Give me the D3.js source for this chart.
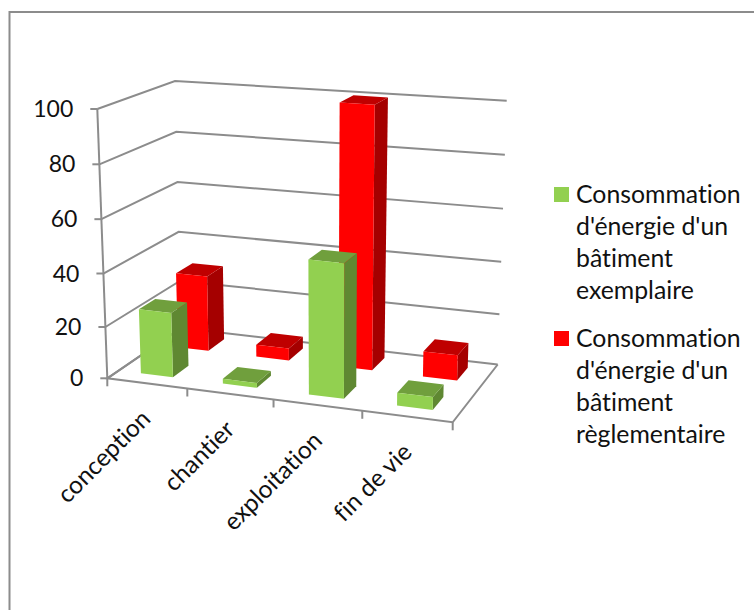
<!DOCTYPE html>
<html lang="fr">

<head>
    <meta charset="utf-8">
    <script src="https://d3js.org/d3.v7.min.js"></script>
    <style>
        body { margin: 0; background: white; }
        text { font-family: Lato, "Open Sans", sans-serif; fill: #111; font-variant-ligatures: none; }
        .axis-line { fill: none; stroke: #8c8c8c; stroke-width: 2px; }
    </style>
</head>

<body>
    <div id="my_dataviz"></div>

    <script>
        // chart data
        const categories = ["conception", "chantier", "exploitation", "fin de vie"];
        const seriesKeys = ["exemplaire", "reglementaire"];
        const exemplaire = [25, 2, 50, 5];
        const reglementaire = [30, 5, 100, 10];
        const valueTicks = [0, 20, 40, 60, 80, 100];
        const legendExemplaire = ["Consommation", "d'énergie d'un", "bâtiment", "exemplaire"];
        const legendReglementaire = ["Consommation", "d'énergie d'un", "bâtiment", "règlementaire"];

        const width = 754, height = 610;

        const svg = d3.select("#my_dataviz")
            .append("svg")
            .attr("width", width)
            .attr("height", height)
            .style("display", "block");

        // chart frame, runs off the picture on the right and the bottom
        svg.append("path")
            .attr("class", "axis-line")
            .attr("d", `M9.5,${height + 5}V12H${width + 5}`);

        // the corners of the 3d box on screen, everything gets projected from these
        const box = {
            floorFrontLeft: [107.3, 378.3], floorFrontRight: [452.7, 422.3],
            floorBackLeft: [181, 328], floorBackRight: [497.7, 364.5],
            topFrontLeft: [97.3, 109], topFrontRight: [457.7, 136],
            topBackLeft: [175, 81], topBackRight: [506.7, 100.7]
        };

        // scales work in 0-1 box space, the pow ones fake the perspective
        const x = d3.scaleBand().domain(categories).range([0, 1]).paddingInner(0.6).paddingOuter(0.3);
        const z = d3.scaleBand().domain(seriesKeys).range([0, 1]).paddingInner(0.563).paddingOuter(0.2525).align(0.596);
        const y = d3.scalePow().exponent(1.03).domain([0, 100]).range([0, 1]);
        const perspective = d3.scalePow().exponent(1.055).domain([0, 1]).range([0, 1]);

        const lerp = (a, b, t) => [a[0] + (b[0] - a[0]) * t, a[1] + (b[1] - a[1]) * t];

        function project(u, v, w) {
            const p = perspective(u);
            const floor = lerp(lerp(box.floorFrontLeft, box.floorFrontRight, p), lerp(box.floorBackLeft, box.floorBackRight, p), v);
            const top = lerp(lerp(box.topFrontLeft, box.topFrontRight, p), lerp(box.topBackLeft, box.topBackRight, p), v);
            return lerp(floor, top, w);
        }

        const line = d3.line();

        // gridlines on left and back wall
        const grid = svg.append("g");
        valueTicks.forEach(t => {
            const w = y(t);
            grid.append("path")
                .attr("class", "axis-line")
                .attr("d", line([project(0, 0, w), project(0, 1, w), project(1, 1, w)]));
            // tick to the left of the value axis
            const p = project(0, 0, w);
            grid.append("path")
                .attr("class", "axis-line")
                .attr("d", line([[p[0] - 7, p[1]], p]));
            svg.append("text")
                .attr("x", p[0] - 24)
                .attr("y", p[1] + 8)
                .attr("text-anchor", "end")
                .style("font-size", "23px")
                .text(t);
        });

        // value axis, floor outline and category ticks
        grid.append("path")
            .attr("class", "axis-line")
            .attr("d", line([project(0, 0, 1), project(0, 0, 0)]));
        grid.append("path")
            .attr("class", "axis-line")
            .attr("d", line([project(0, 1, 0), project(0, 0, 0), project(1, 0, 0), project(1, 1, 0)]));

        d3.range(categories.length + 1).forEach(i => {
            const p = project(i / categories.length, 0, 0);
            grid.append("path")
                .attr("class", "axis-line")
                .attr("d", line([p, [p[0], p[1] + 8]]));
        });

        // category labels
        categories.forEach(c => {
            const p = project(x(c) + x.bandwidth() / 2, 0, 0);
            svg.append("text")
                .attr("transform", `translate(${p[0] + 6},${p[1] + 37}) rotate(-45)`)
                .attr("text-anchor", "end")
                .style("font-size", "24.5px")
                .text(c);
        });

        const colors = {
            exemplaire: { front: "#92d050", side: "#5f8832", top: "#709f3d" },
            reglementaire: { front: "#ff0000", side: "#a50000", top: "#bf0000" }
        };

        function drawBar(g, cat, key, value) {
            const u0 = x(cat), u1 = x(cat) + x.bandwidth();
            const v0 = z(key), v1 = z(key) + z.bandwidth();
            const w = y(value);
            const c = colors[key];
            g.append("path").attr("fill", c.side)
                .attr("d", line([project(u1, v0, 0), project(u1, v1, 0), project(u1, v1, w), project(u1, v0, w)]) + "Z");
            g.append("path").attr("fill", c.top)
                .attr("d", line([project(u0, v0, w), project(u1, v0, w), project(u1, v1, w), project(u0, v1, w)]) + "Z");
            g.append("path").attr("fill", c.front)
                .attr("d", line([project(u0, v0, 0), project(u1, v0, 0), project(u1, v0, w), project(u0, v0, w)]) + "Z");
        }

        // back row first so the green bars sit in front of the red ones
        const bars = svg.append("g");
        categories.forEach((c, i) => drawBar(bars, c, "reglementaire", reglementaire[i]));
        categories.forEach((c, i) => drawBar(bars, c, "exemplaire", exemplaire[i]));

        // legend
        function drawLegend(lines, color, baseline) {
            svg.append("rect")
                .attr("x", 554)
                .attr("y", baseline - 15)
                .attr("width", 15)
                .attr("height", 15)
                .attr("fill", color);
            lines.forEach((l, i) => {
                svg.append("text")
                    .attr("x", 576)
                    .attr("y", baseline + 1 + i * 32.1)
                    .style("font-size", "24.8px")
                    .text(l);
            });
        }
        drawLegend(legendExemplaire, colors.exemplaire.front, 202);
        drawLegend(legendReglementaire, colors.reglementaire.front, 346);
    </script>

</body>

</html>
